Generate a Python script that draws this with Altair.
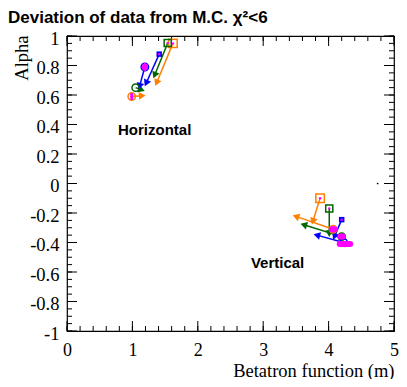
import math
import altair as alt
import pandas as pd
import numpy as np

# ---------------- data ----------------
series = ["set A", "set B", "set C"]          # orange, green, blue

# Horizontal plane: square markers and where their arrows end
h_sq_beta = [1.62, 1.54, 1.41]
h_sq_alpha = [0.950, 0.952, 0.877]
h_sq_beta_end = [1.37, 1.34, 1.21]
h_sq_alpha_end = [0.683, 0.734, 0.680]
# Horizontal plane: circle markers and where their arrows end
h_ci_beta = [0.99, 1.05, 1.19]
h_ci_alpha = [0.590, 0.650, 0.790]
h_ci_beta_end = [1.15, 1.14, 1.11]
h_ci_alpha_end = [0.595, 0.635, 0.660]

# Vertical plane
v_sq_beta = [3.87, 4.01, 4.20]
v_sq_alpha = [-0.100, -0.170, -0.245]
v_sq_beta_end = [3.76, 4.01, 4.09]
v_sq_alpha_end = [-0.256, -0.340, -0.360]
v_ci_beta = [4.07, 4.20, 4.23]
v_ci_alpha = [-0.310, -0.360, -0.400]
v_ci_beta_end = [3.50, 3.62, 3.82]
v_ci_alpha_end = [-0.223, -0.280, -0.350]

# M.C. points with errors (magenta)
mc_beta = [1.62, 1.54, 1.41, 1.19, 0.99, 3.87, 4.01, 4.20, 4.07, 4.25, 4.20]
mc_alpha = [0.950, 0.952, 0.877, 0.790, 0.590, -0.100, -0.170, -0.245, -0.310, -0.410, -0.360]
mc_beta_err = [0.0, 0.0, 0.0, 0.004, 0.0, 0.0, 0.0, 0.0, 0.02, 0.08, 0.02]
mc_alpha_err = [0.0, 0.0, 0.0, 0.018, 0.015, 0.0, 0.0, 0.0, 0.012, 0.012, 0.01]

labels = ["Horizontal", "Vertical"]
label_beta = [1.34, 3.22]
label_alpha = [0.366, -0.538]

stray_beta = [4.75]
stray_alpha = [0.0]

title_text = ["Deviation of data from M.C. χ²<6"]

x_ticks = [0, 1, 2, 3, 4, 5]
y_ticks = [-1, -0.8, -0.6, -0.4, -0.2, 0, 0.2, 0.4, 0.6, 0.8, 1]

# ---------------- layout ----------------
W, H = 327, 295
PX_X = W / 5.0
PX_Y = H / 2.0
colors = ["#ff7f00", "#006600", "#0000ff"]
cscale = alt.Scale(domain=series, range=colors)
MAG = "#ff00ff"

xs = alt.Scale(domain=[0, 5], nice=False, zero=False)
ys = alt.Scale(domain=[-1, 1], nice=False, zero=False)

SERIF = "Liberation Serif"
SANS = "Liberation Sans"

xaxis = alt.Axis(values=x_ticks, ticks=False, domain=False, grid=False,
                 labelFont=SERIF, labelFontSize=18, labelPadding=10,
                 labelColor="black", labelFlush=False, labelOverlap=False,
                 title="Betatron function (m)", titleFont=SERIF,
                 titleFontSize=18.5, titleFontWeight="normal", titleColor="black",
                 titleAnchor="end", titleAlign="right", titleBaseline="alphabetic",
                 titleX=W, titleY=45)
yaxis = alt.Axis(values=y_ticks, ticks=False, domain=False, grid=False,
                 labelFont=SERIF, labelFontSize=18.5, labelPadding=8,
                 labelColor="black", labelOverlap=False, labelOffset=2,
                 labelExpr="datum.value == 0 ? '0' : (datum.value < 0 ? '-' : '') + format(abs(datum.value), '~g')",
                 title="Alpha", titleFont=SERIF, titleFontSize=18.5,
                 titleFontWeight="normal", titleColor="black",
                 titleAngle=270, titleAlign="right", titleBaseline="alphabetic",
                 titleX=-40, titleY=-1)


def X(f):
    return alt.X(f, type="quantitative", scale=xs, axis=xaxis)


def Y(f):
    return alt.Y(f, type="quantitative", scale=ys, axis=yaxis)


# ---------------- tables ----------------
rows = []
for plane in ("h", "v"):
    for kind in ("sq", "ci"):
        b0 = globals()[f"{plane}_{kind}_beta"]
        a0 = globals()[f"{plane}_{kind}_alpha"]
        b1 = globals()[f"{plane}_{kind}_beta_end"]
        a1 = globals()[f"{plane}_{kind}_alpha_end"]
        for s, xb, ya, xe, ye in zip(series, b0, a0, b1, a1):
            dx = (xe - xb) * PX_X
            dy = (ye - ya) * PX_Y
            ang = math.degrees(math.atan2(dx, dy)) % 360
            rows.append(dict(series=s, kind=kind, beta=xb, alpha=ya,
                             beta_end=xe, alpha_end=ye, ang=ang))
df = pd.DataFrame(rows)
mc = pd.DataFrame(dict(beta=mc_beta, alpha=mc_alpha,
                       blo=np.array(mc_beta) - np.array(mc_beta_err),
                       bhi=np.array(mc_beta) + np.array(mc_beta_err),
                       alo=np.array(mc_alpha) - np.array(mc_alpha_err),
                       ahi=np.array(mc_alpha) + np.array(mc_alpha_err)))
lab = pd.DataFrame(dict(text=labels, beta=label_beta, alpha=label_alpha))
stray = pd.DataFrame(dict(beta=stray_beta, alpha=stray_alpha))
ttl = pd.DataFrame(dict(text=title_text))

COLOR = alt.Color("series:N", scale=cscale, legend=None)

segs = alt.Chart(df).mark_rule(strokeWidth=1.5).encode(
    x=X("beta"), y=Y("alpha"), x2="beta_end", y2="alpha_end", color=COLOR)
heads = alt.Chart(df).mark_point(shape="triangle-up", filled=True, opacity=1, size=60).encode(
    x=X("beta_end"), y=Y("alpha_end"), angle=alt.Angle("ang:Q", scale=None), color=COLOR)

sq = alt.Chart(df).transform_filter("datum.kind == 'sq'")
sq_orange = sq.transform_filter("datum.series == 'set A'").mark_point(
    shape="square", filled=False, size=72, strokeWidth=1.5, opacity=1).encode(
    x=X("beta"), y=Y("alpha"), color=COLOR)
sq_green = sq.transform_filter("datum.series == 'set B'").mark_point(
    shape="square", filled=False, size=50, strokeWidth=1.5, opacity=1).encode(
    x=X("beta"), y=Y("alpha"), color=COLOR)
sq_fill = sq.transform_filter("datum.series == 'set C'").mark_point(
    shape="square", filled=True, size=30, opacity=1).encode(
    x=X("beta"), y=Y("alpha"), color=COLOR)
ci = alt.Chart(df).transform_filter("datum.kind == 'ci'").mark_point(
    shape="circle", filled=False, size=55, strokeWidth=1.5, opacity=1).encode(
    x=X("beta"), y=Y("alpha"), color=COLOR)

mc_h = alt.Chart(mc).transform_filter("datum.bhi > datum.blo").mark_rule(
    color=MAG, strokeWidth=6, strokeCap="round").encode(
    x=X("blo"), x2="bhi", y=Y("alpha"))
mc_v = alt.Chart(mc).transform_filter("datum.ahi > datum.alo").mark_rule(
    color=MAG, strokeWidth=3, strokeCap="round").encode(
    x=X("beta"), y=Y("alo"), y2="ahi")
mc_pt = alt.Chart(mc).mark_point(shape="circle", filled=True, color=MAG, size=6, opacity=1).encode(
    x=X("beta"), y=Y("alpha"))

stray_pt = alt.Chart(stray).mark_point(filled=True, color="black", size=3, opacity=1).encode(
    x=X("beta"), y=Y("alpha"))

texts = alt.Chart(lab).mark_text(font=SANS, fontWeight="bold", fontSize=15,
                                 color="black", baseline="middle", align="center").encode(
    x=X("beta"), y=Y("alpha"), text="text:N")

title_mark = alt.Chart(ttl).mark_text(font=SANS, fontWeight="bold", fontSize=17,
                                      color="black", baseline="alphabetic", align="left").encode(
    x=alt.value(-59), y=alt.value(-13.5), text="text:N")

# inward ticks on all four sides
xmaj = pd.DataFrame(dict(v=np.round(np.arange(0, 5.001, 1.0), 3)))
xmin = pd.DataFrame(dict(v=np.round(np.arange(0, 5.001, 0.2), 3)))
ymaj = pd.DataFrame(dict(v=np.round(np.arange(-1, 1.001, 0.2), 3)))
ymin = pd.DataFrame(dict(v=np.round(np.arange(-1, 1.001, 0.05), 3)))
tick_layers = []
for d, ln in ((xmaj, 10), (xmin, 5)):
    tick_layers.append(alt.Chart(d).mark_rule(color="black", strokeWidth=1).encode(
        x=X("v"), y=alt.value(H), y2=alt.value(H - ln)))
    tick_layers.append(alt.Chart(d).mark_rule(color="black", strokeWidth=1).encode(
        x=X("v"), y=alt.value(0), y2=alt.value(ln)))
for d, ln in ((ymaj, 10), (ymin, 5)):
    tick_layers.append(alt.Chart(d).mark_rule(color="black", strokeWidth=1).encode(
        y=Y("v"), x=alt.value(0), x2=alt.value(ln)))
    tick_layers.append(alt.Chart(d).mark_rule(color="black", strokeWidth=1).encode(
        y=Y("v"), x=alt.value(W), x2=alt.value(W - ln)))

chart = alt.layer(
    *tick_layers, segs, heads, sq_orange, sq_green, sq_fill, ci,
    mc_h, mc_v, mc_pt, stray_pt, texts, title_mark
).properties(
    width=W, height=H,
    autosize=alt.AutoSizeParams(type="none"),
    padding={"left": 59, "top": 28, "right": 5, "bottom": 48},
    background="white",
).configure_view(stroke="black", strokeWidth=1.2)

chart.save("out.html", embed_options={"renderer": "svg", "actions": False})
